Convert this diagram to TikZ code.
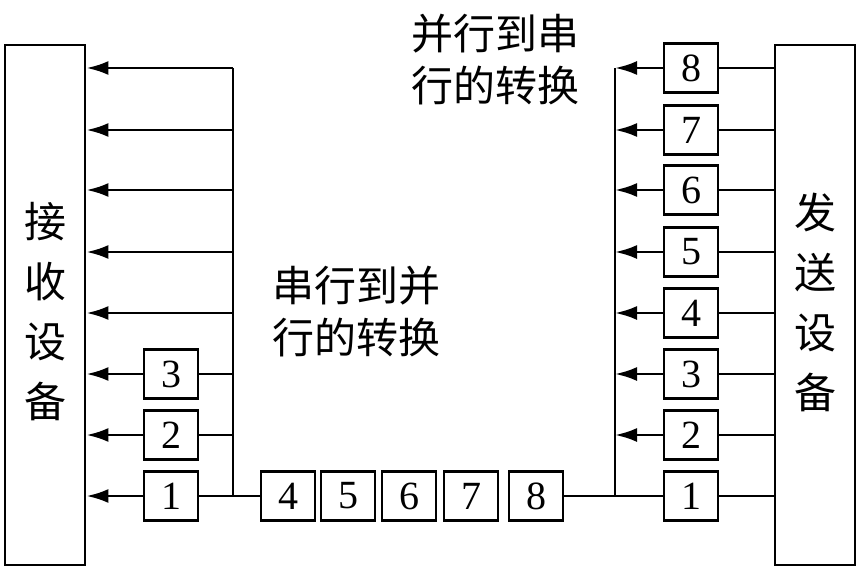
\documentclass[tikz,border=0pt]{standalone}
\usepackage{fontspec}
\setmainfont{Liberation Serif}
\newfontfamily\cjk{Noto Sans CJK SC}
\usetikzlibrary{arrows.meta}
\begin{document}
\begin{tikzpicture}[x=1pt,y=-1pt,line width=2.8pt,
  dev/.style={draw,minimum width=80pt,minimum height=520pt,inner sep=0pt},
  num/.style={draw,minimum width=54pt,minimum height=49pt,inner sep=0pt,font=\fontsize{40}{40}\selectfont},
  arr/.style={-{Latex[length=22pt,width=14pt]}},
  lab/.style={font=\cjk\fontsize{42}{52}\selectfont,align=left,inner sep=0pt},
  vlab/.style={font=\cjk\fontsize{42}{60}\selectfont,align=center,inner sep=0pt}]
\useasboundingbox (0,0) rectangle (862,583);
\node[dev] (L) at (45,305) {};
\node[dev] (R) at (815,305) {};
\node[vlab] at (45,312) {接\\收\\设\\备};
\node[vlab] at (815,302) {发\\送\\设\\备};
\node[lab] (t1) at (495,60) {并行到串\\行的转换};
\node[lab] (t2) at (356,312) {串行到并\\行的转换};
% left side
\coordinate (lt) at (233,68); \coordinate (lb) at (233,496);
\draw (lt) -- (lb);
\foreach \y in {68,130,190,252,313}{
  \coordinate (la\y) at (233,\y);
  \draw[arr] (la\y) -- (L.east |- la\y);}
\foreach \n/\y in {1/496,2/435,3/374}{
  \node[num] (l\n) at (171,\y) {\n};
  \draw (lb |- l\n) -- (l\n.east);
  \draw[arr] (l\n.west) -- (L.east |- l\n);}
% bottom row
\foreach \n/\x in {4/288,5/348,6/409,7/471,8/536}{
  \node[num] (b\n) at (\x,496) {\n};}
\draw (lb) -- (b4.west);
\coordinate (rb) at (615,496); \coordinate (rt) at (615,68);
\draw (b8.east) -- (rb);
\draw (rt) -- (rb);
% right side
\foreach \n/\y in {1/496,2/435,3/374,4/313,5/252,6/190,7/130,8/68}{
  \node[num] (r\n) at (691,\y) {\n};
  \draw (R.west |- r\n) -- (r\n.east);}
\draw (r1.west) -- (rb);
\foreach \n in {2,...,8}{
  \draw[arr] (r\n.west) -- (rb |- r\n);}
\end{tikzpicture}
\end{document}
